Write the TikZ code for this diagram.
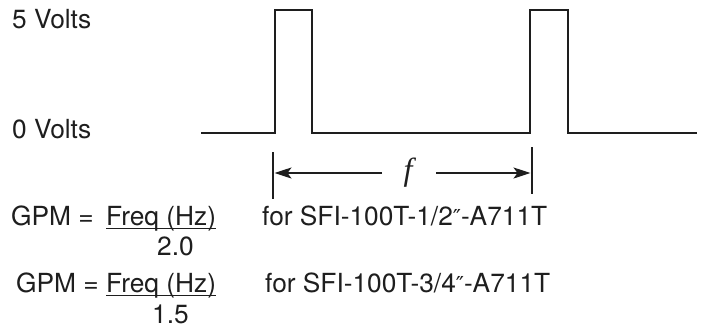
\documentclass[tikz,border=0pt]{standalone}
\usepackage{fontspec}
\setmainfont{TeX Gyre Heros}
\newfontfamily\symfont{DejaVu Sans}
\newfontfamily\ffont{Liberation Serif}
\usetikzlibrary{arrows.meta,calc}
\definecolor{ink}{HTML}{1E1E1E}
\newcommand{\dprime}{{\symfont\fontsize{22}{26}\selectfont\char"2033}}
\tikzset{
  sig/.style={line width=2pt, draw=ink, line join=miter},
  tick/.style={line width=2.4pt, draw=ink},
  dim/.style={line width=2pt, draw=ink, -{Stealth[length=17pt,width=11pt,inset=4pt]}},
  lbl/.style={anchor=base west, inner sep=0pt, text=ink, font=\fontsize{26.3}{30}\selectfont},
  uline/.style={line width=1.5pt, draw=ink}
}
\begin{document}
\begin{tikzpicture}[x=1pt,y=-1pt]
\useasboundingbox (0,0) rectangle (702,330);
% signal
\coordinate (s0) at (201,133);
\coordinate (p1a) at (275,133);
\coordinate (p1b) at (275,10);
\coordinate (p1c) at (312,10);
\coordinate (p1d) at (312,133);
\coordinate (p2a) at (530,133);
\coordinate (p2b) at (530,10);
\coordinate (p2c) at (568,10);
\coordinate (p2d) at (568,133);
\coordinate (s1) at (697,133);
\draw[sig] (s0) -- (p1a) -- (p1b) -- (p1c) -- (p1d) -- (p2a) -- (p2b) -- (p2c) -- (p2d) -- (s1);
% ticks
\coordinate (t1a) at (273,152);
\coordinate (t1b) at (273,199);
\coordinate (t2a) at (532,147);
\coordinate (t2b) at (532,194);
\draw[tick] (t1a) -- (t1b);
\draw[tick] (t2a) -- (t2b);
% dimension arrows
\node[inner sep=0pt, text=ink, anchor=base] (f) at (408,180) {\ffont\itshape\fontsize{32}{36}\selectfont f};
\coordinate (aL1) at (382,173);
\coordinate (aL2) at (274.5,173);
\coordinate (aR1) at (436,173);
\coordinate (aR2) at (530.5,173);
\draw[dim] (aL1) -- (aL2);
\draw[dim] (aR1) -- (aR2);
% axis labels
\node[lbl] (v5) at (12,28) {5 Volts};
\node[lbl] (v0) at (12,138) {0 Volts};
% formula 1
\node[lbl] (g1) at (11,225) {GPM =};
\node[lbl] (fq1) at (106,225) {Freq (Hz)};
\node[lbl] (d1) at (157,255) {2.0};
\node[lbl] (m1) at (262,225) {for SFI-100T-1/2\dprime-A711T};
\draw[uline] ($(fq1.base west)+(0,3.5)$) -- ($(fq1.base east)+(0,3.5)$);
% formula 2
\node[lbl] (g2) at (16,292) {GPM =};
\node[lbl] (fq2) at (106,292) {Freq (Hz)};
\node[lbl] (d2) at (152,323) {1.5};
\node[lbl] (m2) at (265,292) {for SFI-100T-3/4\dprime-A711T};
\draw[uline] ($(fq2.base west)+(0,3.5)$) -- ($(fq2.base east)+(0,3.5)$);
\end{tikzpicture}
\end{document}
